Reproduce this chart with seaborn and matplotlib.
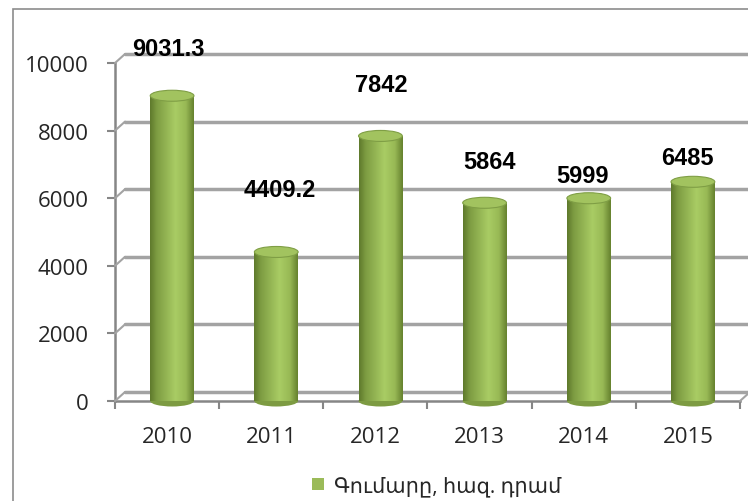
import numpy as np
import pandas as pd
import seaborn as sns
from matplotlib import pyplot as plt
from matplotlib import transforms
from matplotlib.colors import LinearSegmentedColormap
from matplotlib.lines import Line2D
from matplotlib.patches import Ellipse, Rectangle, Patch

# data
years = ['2010', '2011', '2012', '2013', '2014', '2015']
amounts = [9031.3, 4409.2, 7842, 5864, 5999, 6485]
value_labels = ['9031.3', '4409.2', '7842', '5864', '5999', '6485']
series_name = 'Գումարը, հազ. դրամ'

# label placement (pixels from the bar top), the reference scatters them
label_dx = [1, 9, 6, 10, -1, -1]
label_dy = [47, 62, 51, 41, 23, 24]

sns.set_style('white')
plt.rcParams['font.family'] = ['Open Sans', 'DejaVu Sans']

fig = plt.figure(figsize=(7.48, 5.02), dpi=100)
ax = fig.add_axes([115 / 748, 100 / 502, 625 / 748, 338 / 502])

df = pd.DataFrame({'year': years, 'amount': amounts})
sns.barplot(data=df, x='year', y='amount', color='#9bbb59', width=0.42,
            ax=ax, zorder=3, edgecolor='none')

ax.set_xlim(-0.5, 5.5)
ax.set_ylim(0, 10000)
ax.set_yticks(np.arange(0, 10001, 2000))
ax.set_xlabel('')
ax.set_ylabel('')

#cylinder look
cyl = LinearSegmentedColormap.from_list('cyl', [(0, '#5f7a2c'), (0.15, '#7d9c42'),
                                                (0.58, '#a9cc64'), (0.82, '#98b955'),
                                                (1, '#66822f')])
grad = np.linspace(0, 1, 120).reshape(1, -1)
ell_h = 11 * 10000 / 338
depth_shift = 5 / 104  # bars sit a bit right of the category centre in the 3d view
for bar in ax.patches:
    bar.set_x(bar.get_x() + depth_shift)
    x0, w, h = bar.get_x(), bar.get_width(), bar.get_height()
    img = ax.imshow(grad, extent=[x0, x0 + w, 0, h], aspect='auto', cmap=cyl, zorder=3.5)
    img.set_clip_path(bar)
    ax.add_patch(Ellipse((x0 + w / 2, 0), w, ell_h, facecolor='#7d9b42',
                         edgecolor='none', zorder=2.9, clip_on=False))
    ax.add_patch(Ellipse((x0 + w / 2, h), w, ell_h, facecolor='#a2c35f',
                         edgecolor='#7f9e45', lw=0.8, zorder=4))
ax.set_xlim(-0.5, 5.5)
ax.set_ylim(0, 10000)

for i, v in enumerate(amounts):
    ax.annotate(value_labels[i], (i, v), xytext=(label_dx[i], label_dy[i]),
                textcoords='offset pixels', ha='center', va='center',
                fontsize=17, fontweight='bold', family='Liberation Sans',
                color='black', zorder=6, annotation_clip=False)

# back wall gridlines, shifted like the 3d chart
grid_col = '#a3a3a3'
back = transforms.ScaledTranslation(10 / 100, 9 / 100, fig.dpi_scale_trans)
tr = ax.get_yaxis_transform() + back
inv = fig.transFigure.inverted()
for y in ax.get_yticks():
    ax.plot([0, 1], [y, y], transform=tr, color=grid_col, lw=2.5, zorder=1, clip_on=False)
    p0 = ax.transData.transform((-0.5, y))
    f0 = inv.transform(p0)
    f1 = inv.transform(p0 + np.array([10, 9]))
    fig.add_artist(Line2D([f0[0], f1[0]], [f0[1], f1[1]], color=grid_col, lw=1.5))
p0 = ax.transData.transform((5.5, 0))
f0 = inv.transform(p0)
f1 = inv.transform(p0 + np.array([10, 9]))
fig.add_artist(Line2D([f0[0], f1[0]], [f0[1], f1[1]], color=grid_col, lw=1.5))

for s in ['top', 'right']:
    ax.spines[s].set_visible(False)
for s in ['left', 'bottom']:
    ax.spines[s].set_color('#868686')
    ax.spines[s].set_linewidth(1.8)
    ax.spines[s].set_zorder(2)

ax.tick_params(axis='y', length=6, width=1.5, color='#868686', direction='out',
               labelsize=16, pad=13, left=True)
ax.tick_params(axis='x', which='major', length=0, labelsize=16, pad=18)
ax.set_xticks(np.arange(-0.5, 6, 1), minor=True)
ax.tick_params(axis='x', which='minor', length=6, width=1.5, color='#868686',
               direction='out', bottom=True)

handle = Patch(facecolor='#9bbb59', edgecolor='none', label=series_name)
fig.legend(handles=[handle], loc='center', bbox_to_anchor=(437 / 748, 1 - 487 / 502),
           frameon=False, fontsize=15, handlelength=0.55, handleheight=0.55,
           handletextpad=0.5)

fig.add_artist(Rectangle((13 / 748, -0.1), 1, 1.1 - 10 / 502, transform=fig.transFigure,
                         fill=False, edgecolor='#8c8c8c', lw=1.2))

fig.savefig('out.png', dpi=100)
